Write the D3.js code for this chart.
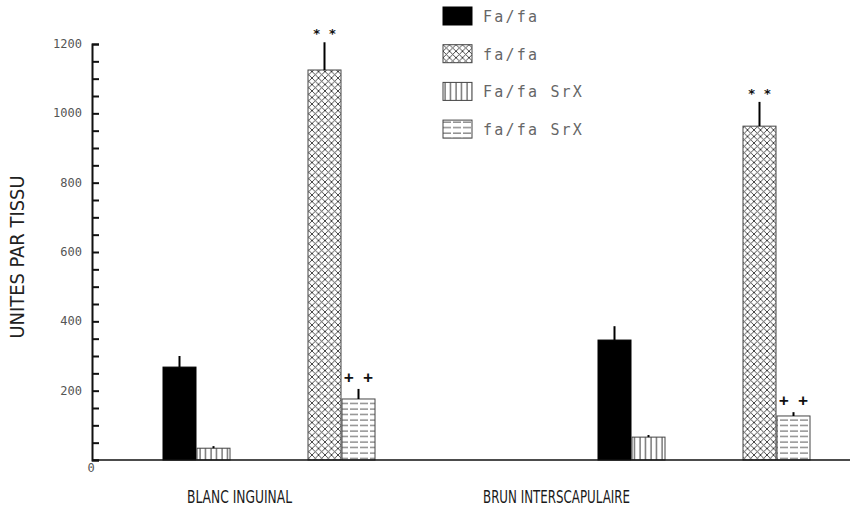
<!DOCTYPE html>
<html>
<head>
<meta charset="utf-8">
<script src="https://cdn.jsdelivr.net/npm/d3@7"></script>
<style>
  body { margin: 0; background: #fff; }
  svg { display: block; }
  .mono { font-family: "DejaVu Sans Mono", monospace; }
</style>
</head>
<body>
<div id="chart"></div>
<script>
// data
var categories = ["BLANC INGUINAL", "BRUN INTERSCAPULAIRE"];
var series = ["Fa/fa", "fa/fa", "Fa/fa SrX", "fa/fa SrX"];
var means = {
  "Fa/fa":     [268, 346],
  "fa/fa":     [1125, 963],
  "Fa/fa SrX": [34, 66],
  "fa/fa SrX": [176, 127]
};
var errTops = {
  "Fa/fa":     [300, 386],
  "fa/fa":     [1205, 1033],
  "Fa/fa SrX": [40, 72],
  "fa/fa SrX": [205, 138]
};
var marks = {
  "Fa/fa":     ["", ""],
  "fa/fa":     ["* *", "* *"],
  "Fa/fa SrX": ["", ""],
  "fa/fa SrX": ["+ +", "+ +"]
};
var yTicks = [0, 200, 400, 600, 800, 1000, 1200];

var width = 852, height = 509;

var svg = d3.select("#chart").append("svg")
    .attr("width", width)
    .attr("height", height);

// patterns
var defs = svg.append("defs");
var cross = defs.append("pattern").attr("id", "p-cross")
    .attr("patternUnits", "userSpaceOnUse").attr("width", 6.5).attr("height", 6.5);
cross.append("path").attr("d", "M0,0L6.5,6.5M6.5,0L0,6.5")
    .attr("stroke", "#333").attr("stroke-width", 0.9);
var vert = defs.append("pattern").attr("id", "p-vert")
    .attr("patternUnits", "userSpaceOnUse").attr("width", 5.5).attr("height", 10);
vert.append("path").attr("d", "M2,0V10").attr("stroke", "#333").attr("stroke-width", 1);
var horiz = defs.append("pattern").attr("id", "p-horiz")
    .attr("patternUnits", "userSpaceOnUse").attr("width", 10).attr("height", 5.5);
horiz.append("path").attr("d", "M0,2H10").attr("stroke", "#555").attr("stroke-width", 1).attr("stroke-dasharray", "8,2");

var fills = {
  "Fa/fa": "#000",
  "fa/fa": "url(#p-cross)",
  "Fa/fa SrX": "url(#p-vert)",
  "fa/fa SrX": "url(#p-horiz)"
};
var markSize = { "* *": 13, "+ +": 16 };

// scales
var y = d3.scaleLinear().domain([0, 1200]).range([460, 44]);
var xGroup = d3.scaleOrdinal().domain(categories).range([163, 598]);
var xInner = d3.scaleOrdinal().domain(series).range([0, 145, 34, 179]);
var barW = 33;

// bars
series.forEach(function(s) {
  var g = svg.append("g");
  var data = categories.map(function(c, i) {
    return { cat: c, v: means[s][i], e: errTops[s][i], m: marks[s][i] };
  });
  g.selectAll("rect").data(data).enter().append("rect")
      .attr("x", function(d) { return xGroup(d.cat) + xInner(s); })
      .attr("y", function(d) { return y(d.v); })
      .attr("width", barW)
      .attr("height", function(d) { return y(0) - y(d.v); })
      .attr("fill", fills[s])
      .attr("stroke", s == "Fa/fa" ? "#000" : "#444")
      .attr("stroke-width", 1);
  g.selectAll("line").data(data).enter().append("line")
      .attr("x1", function(d) { return xGroup(d.cat) + xInner(s) + barW / 2; })
      .attr("x2", function(d) { return xGroup(d.cat) + xInner(s) + barW / 2; })
      .attr("y1", function(d) { return y(d.v); })
      .attr("y2", function(d) { return y(d.e); })
      .attr("stroke", "#000").attr("stroke-width", 2);
  g.selectAll("text").data(data.filter(function(d) { return d.m; })).enter().append("text")
      .attr("x", function(d) { return xGroup(d.cat) + xInner(s) + barW / 2; })
      .attr("y", function(d) { return y(d.e) - (d.m == "* *" ? 4 : 6); })
      .attr("text-anchor", "middle")
      .attr("font-family", "DejaVu Sans Mono, monospace")
      .attr("font-weight", "bold")
      .attr("font-size", function(d) { return markSize[d.m]; })
      .attr("fill", "#111")
      .text(function(d) { return d.m; });
});

// y axis
var yAxis = d3.axisRight(y)
    .tickValues(d3.range(0, 1201, 50))
    .tickSize(7)
    .tickFormat("");
var ya = svg.append("g").attr("transform", "translate(92,0)").call(yAxis);
ya.select(".domain").attr("stroke", "#111").attr("stroke-width", 2);
ya.selectAll(".tick line").attr("stroke", "#111").attr("stroke-width", 2);

svg.selectAll(".ylab").data(yTicks.filter(function(d) { return d > 0; })).enter().append("text")
    .attr("class", "mono")
    .attr("x", 82).attr("y", function(d) { return y(d) + 4; })
    .attr("text-anchor", "end")
    .attr("font-size", 12)
    .attr("fill", "#555")
    .text(function(d) { return d; });
svg.append("text").attr("class", "mono")
    .attr("x", 91).attr("y", 472).attr("text-anchor", "middle")
    .attr("font-size", 12).attr("fill", "#555").text("0");

// x axis
svg.append("line").attr("x1", 92).attr("x2", 850)
    .attr("y1", y(0)).attr("y2", y(0))
    .attr("stroke", "#111").attr("stroke-width", 1.5);

// category labels
var catX = d3.scaleOrdinal().domain(categories).range([187, 483]);
var catW = d3.scaleOrdinal().domain(categories).range([105, 147]);
svg.selectAll(".cat").data(categories).enter().append("text")
    .attr("x", function(d) { return catX(d); })
    .attr("y", 503)
    .attr("font-family", "DejaVu Sans Condensed, DejaVu Sans, sans-serif")
    .attr("font-size", 17)
    .attr("fill", "#1a1a1a")
    .attr("textLength", function(d) { return catW(d); })
    .attr("lengthAdjust", "spacingAndGlyphs")
    .text(function(d) { return d; });

// y title
svg.append("text")
    .attr("transform", "translate(24,257) rotate(-90)")
    .attr("text-anchor", "middle")
    .attr("font-family", "DejaVu Sans Condensed, DejaVu Sans, sans-serif")
    .attr("font-size", 19)
    .attr("fill", "#222")
    .attr("textLength", 163)
    .attr("lengthAdjust", "spacingAndGlyphs")
    .text("UNITES PAR TISSU");

// legend
var legend = svg.append("g").attr("transform", "translate(443,7)");
var li = legend.selectAll("g").data(series).enter().append("g")
    .attr("transform", function(d, i) { return "translate(0," + (i * 37.7) + ")"; });
li.append("rect").attr("width", 29).attr("height", 18)
    .attr("fill", function(d) { return fills[d]; })
    .attr("stroke", function(d) { return d == "Fa/fa" ? "#000" : "#444"; });
li.append("text").attr("class", "mono")
    .attr("x", 40).attr("y", 15)
    .attr("font-size", 15)
    .attr("letter-spacing", 2.2)
    .attr("fill", "#666")
    .text(function(d) { return d; });
</script>
</body>
</html>
